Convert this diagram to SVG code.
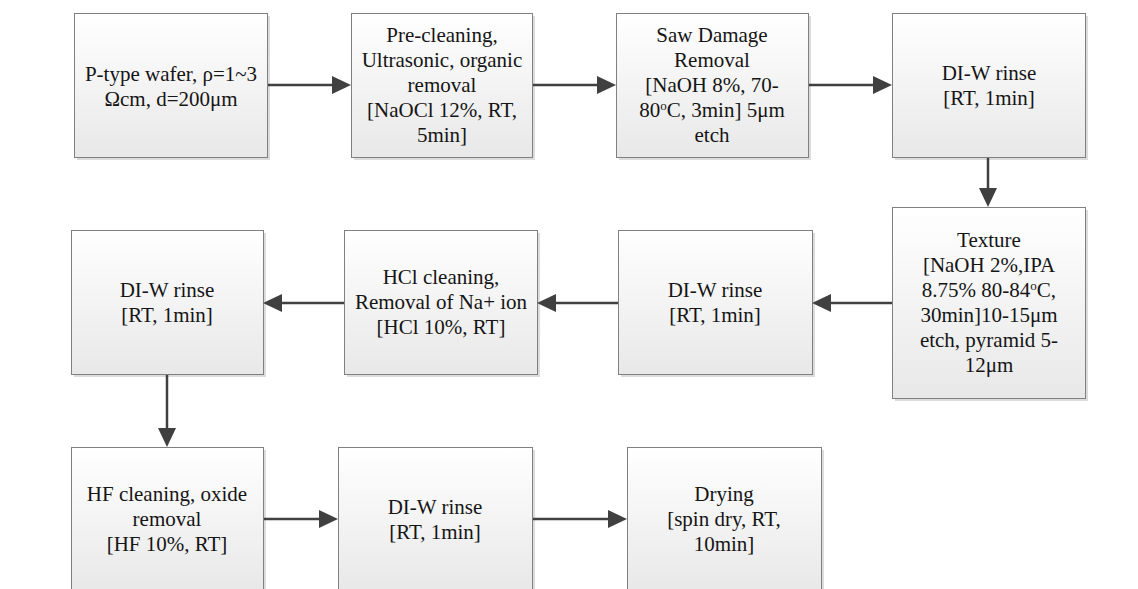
<svg xmlns="http://www.w3.org/2000/svg" width="1138" height="589" viewBox="0 0 1138 589">
<defs>
<linearGradient id="g" x1="0" y1="0" x2="0" y2="1">
<stop offset="0" stop-color="#ffffff"/>
<stop offset="1" stop-color="#e8e8e8"/>
</linearGradient>
<marker id="ah" markerUnits="userSpaceOnUse" markerWidth="20" markerHeight="20" refX="11" refY="9" orient="auto">
<path d="M0,0 L19,9 L0,18 z" fill="#404040"/>
</marker>
<style>
.sh{fill:#dcdcdc;}
.bx{fill:url(#g);stroke:#808080;stroke-width:1;}
text{font-family:'Liberation Serif','Times New Roman',serif;font-size:21px;fill:#151515;text-anchor:middle;}
.c{stroke:#404040;stroke-width:2.5;fill:none;marker-end:url(#ah);}
.sup{font-size:13px;}
</style>
</defs>
<rect width="1138" height="589" fill="#ffffff"/>

<g id="n1">
<rect class="sh" x="77" y="16" width="193" height="144"/>
<rect class="bx" x="74.5" y="13.5" width="193" height="144"/>
<text x="171" y="81">P-type wafer, ρ=1~3</text>
<text x="171" y="106">Ωcm, d=200μm</text>
</g>
<g id="n2">
<rect class="sh" x="354" y="16" width="181" height="144"/>
<rect class="bx" x="351.5" y="13.5" width="181" height="144"/>
<text x="442" y="42">Pre-cleaning,</text>
<text x="442" y="67">Ultrasonic, organic</text>
<text x="442" y="92">removal</text>
<text x="442" y="117">[NaOCl 12%, RT,</text>
<text x="442" y="142">5min]</text>
</g>
<g id="n3">
<rect class="sh" x="619" y="16" width="192" height="144"/>
<rect class="bx" x="616.5" y="13.5" width="192" height="144"/>
<text x="712" y="42">Saw Damage</text>
<text x="712" y="67">Removal</text>
<text x="712" y="92">[NaOH 8%, 70-</text>
<text x="712" y="117">80<tspan class="sup" baseline-shift="super">o</tspan>C, 3min] 5μm</text>
<text x="712" y="142">etch</text>
</g>
<g id="n4">
<rect class="sh" x="895" y="16" width="193" height="144"/>
<rect class="bx" x="892.5" y="13.5" width="193" height="144"/>
<text x="989" y="80">DI-W rinse</text>
<text x="989" y="105">[RT, 1min]</text>
</g>
<g id="n5">
<rect class="sh" x="895" y="210" width="193" height="191"/>
<rect class="bx" x="892.5" y="207.5" width="193" height="191"/>
<text x="989" y="247">Texture</text>
<text x="989" y="272">[NaOH 2%,IPA</text>
<text x="989" y="297">8.75% 80-84<tspan class="sup" baseline-shift="super">o</tspan>C,</text>
<text x="989" y="322">30min]10-15μm</text>
<text x="989" y="347">etch, pyramid 5-</text>
<text x="989" y="372">12μm</text>
</g>
<g id="n6">
<rect class="sh" x="621" y="233" width="194" height="144"/>
<rect class="bx" x="618.5" y="230.5" width="194" height="144"/>
<text x="715" y="297">DI-W rinse</text>
<text x="715" y="322">[RT, 1min]</text>
</g>
<g id="n7">
<rect class="sh" x="347" y="233" width="193" height="144"/>
<rect class="bx" x="344.5" y="230.5" width="193" height="144"/>
<text x="441" y="284">HCl cleaning,</text>
<text x="441" y="309">Removal of Na+ ion</text>
<text x="441" y="334">[HCl 10%, RT]</text>
</g>
<g id="n8">
<rect class="sh" x="74" y="233" width="192" height="144"/>
<rect class="bx" x="71.5" y="230.5" width="192" height="144"/>
<text x="167" y="297">DI-W rinse</text>
<text x="167" y="322">[RT, 1min]</text>
</g>
<g id="n9">
<rect class="sh" x="74" y="450" width="192" height="144"/>
<rect class="bx" x="71.5" y="447.5" width="192" height="144"/>
<text x="167" y="501">HF cleaning, oxide</text>
<text x="167" y="526">removal</text>
<text x="167" y="551">[HF 10%, RT]</text>
</g>
<g id="n10">
<rect class="sh" x="341" y="450" width="194" height="144"/>
<rect class="bx" x="338.5" y="447.5" width="194" height="144"/>
<text x="435" y="514">DI-W rinse</text>
<text x="435" y="539">[RT, 1min]</text>
</g>
<g id="n11">
<rect class="sh" x="630" y="450" width="194" height="144"/>
<rect class="bx" x="627.5" y="447.5" width="194" height="144"/>
<text x="724" y="501">Drying</text>
<text x="724" y="526">[spin dry, RT,</text>
<text x="724" y="551">10min]</text>
</g>

<g id="connectors">
<line class="c" x1="268" y1="85" x2="343" y2="85"/>
<line class="c" x1="533" y1="85" x2="608" y2="85"/>
<line class="c" x1="809" y1="85" x2="884" y2="85"/>
<line class="c" x1="988" y1="158" x2="988" y2="199"/>
<line class="c" x1="892" y1="303" x2="820" y2="303"/>
<line class="c" x1="618" y1="303" x2="545" y2="303"/>
<line class="c" x1="344" y1="303" x2="271" y2="303"/>
<line class="c" x1="167" y1="375" x2="167" y2="439"/>
<line class="c" x1="264" y1="519" x2="330" y2="519"/>
<line class="c" x1="533" y1="519" x2="619" y2="519"/>
</g>
</svg>
